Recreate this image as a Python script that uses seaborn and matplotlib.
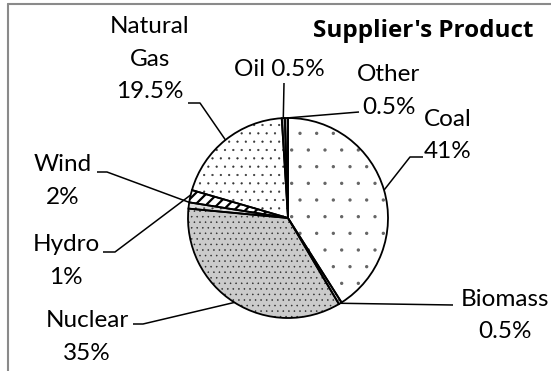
import numpy as np
import pandas as pd
import matplotlib
matplotlib.use("Agg")
import matplotlib.pyplot as plt
from matplotlib.lines import Line2D
import seaborn as sns

# Fuel mix of the supplier's product (percent)
sources = ["Coal", "Biomass", "Nuclear", "Hydro", "Wind", "Natural Gas", "Oil", "Other"]
shares = [41, 0.5, 35, 1, 2, 19.5, 0.5, 0.5]
title = "Supplier's Product"

sns.set_theme(style="white")
plt.rcParams["font.family"] = ["Lato", "DejaVu Sans"]

W, H = 551, 371
fig = plt.figure(figsize=(W / 100, H / 100), dpi=100)
fig.patch.set_facecolor("white")
ax = fig.add_axes([0, 0, 1, 1])

df = pd.DataFrame({"source": sources, "share": shares})


def py(y):
    """Convert a top-down pixel row into the axes' bottom-up coordinate."""
    return H - y


cx, cy, R = 288, py(218), 100

# Pattern fills: facecolor, hatch, hatch colour, hatch line width
fills = {
    "Coal": ("white", ".", "#666666", 0.0),
    "Biomass": ("#c8c8c8", "...", "#333333", 0.3),
    "Nuclear": ("#cbcbcb", "...", "#2a2a2a", 0.35),
    "Hydro": ("#dedede", "..", "#444444", 0.3),
    "Wind": ("white", "///", "black", 1.6),
    "Natural Gas": ("white", "..", "#333333", 0.35),
    "Oil": ("#9a9a9a", "", "black", 0.5),
    "Other": ("#9a9a9a", "", "black", 0.5),
}

# Patterned slices (hatch colour comes from each wedge's edge colour)
wedges, _ = ax.pie(
    df["share"], startangle=90, counterclock=False,
    center=(cx, cy), radius=R, wedgeprops=dict(linewidth=0),
)
for w, src in zip(wedges, df["source"]):
    fc, hatch, hc, hlw = fills[src]
    w.set_facecolor(fc)
    w.set_edgecolor(hc)
    w.set_linewidth(0)
    w.set_hatch(hatch)
    if hasattr(w, "set_hatch_linewidth"):
        w.set_hatch_linewidth(hlw)

# Black slice outlines on top
ax.pie(
    df["share"], startangle=90, counterclock=False,
    center=(cx, cy), radius=R,
    wedgeprops=dict(fill=False, edgecolor="black", linewidth=1.3),
)

ax.set_xlim(0, W)
ax.set_ylim(0, H)
ax.set_aspect("equal")
ax.axis("off")

wedge_of = dict(zip(df["source"], wedges))


def edge_point(src, frac=0.5):
    w = wedge_of[src]
    ang = np.deg2rad(w.theta1 + frac * (w.theta2 - w.theta1))
    return cx + R * np.cos(ang), cy + R * np.sin(ang)


def fmt(v):
    return f"{v:g}%"


# Label placement: centre x, baseline of first line (pixel rows), single-line flag
label_pos = {
    "Coal": (448, 126, False),
    "Biomass": (505, 306, False),
    "Nuclear": (87, 327, False),
    "Hydro": (66, 251, False),
    "Wind": (63, 171, False),
    "Natural Gas": (150, 33, False),
    "Oil": (279, 76, True),
    "Other": (389, 81, False),
}
line_step = 32.5
fs = 17.5
for src, val in zip(df["source"], df["share"]):
    x, y0, single = label_pos[src]
    if single:
        lines = [f"{src} {fmt(val)}"]
    elif src == "Natural Gas":
        lines = ["Natural", "Gas", fmt(val)]
    else:
        lines = [src, fmt(val)]
    for i, txt in enumerate(lines):
        ax.text(x, py(y0 + i * line_step), txt, ha="center", va="baseline",
                fontsize=fs, color="black")

# Leader lines: elbow points (pixel coords) then the wedge anchor
leaders = {
    "Natural Gas": ([(188, 103), (200, 103)], ("Natural Gas", 0.5)),
    "Wind": ([(97, 172), (107, 172)], ("Wind", 1.0)),
    "Hydro": ([(103, 252), (115, 252)], ("Wind", 0.4)),
    "Nuclear": ([(133, 324), (143, 324)], ("Nuclear", 0.5)),
    "Biomass": ([(453, 305)], ("Biomass", 0.5)),
    "Coal": ([(423, 157), (410, 157)], ("Coal", 0.5)),
    "Other": ([(359, 112)], ("Other", 0.5)),
    "Oil": ([(284, 83)], ("Oil", 0.5)),
}
for src, (pts, (tgt, frac)) in leaders.items():
    xs = [p[0] for p in pts]
    ys = [py(p[1]) for p in pts]
    ex, ey = edge_point(tgt, frac)
    xs.append(ex)
    ys.append(ey)
    ax.plot(xs, ys, color="black", lw=1.1, solid_capstyle="butt", zorder=3)

ax.text(423, py(37), title, ha="center", va="baseline", fontsize=17.5,
        fontweight="bold", color="black", family=["Open Sans", "DejaVu Sans"])

# Chart-area frame (top and left edges visible)
frame_kw = dict(transform=fig.transFigure, color="#8a8a8a", lw=1.5)
fig.add_artist(Line2D([8 / W, 1], [1 - 4 / H, 1 - 4 / H], **frame_kw))
fig.add_artist(Line2D([8 / W, 8 / W], [0, 1 - 4 / H], **frame_kw))

fig.savefig("out.png", dpi=100, facecolor="white")
